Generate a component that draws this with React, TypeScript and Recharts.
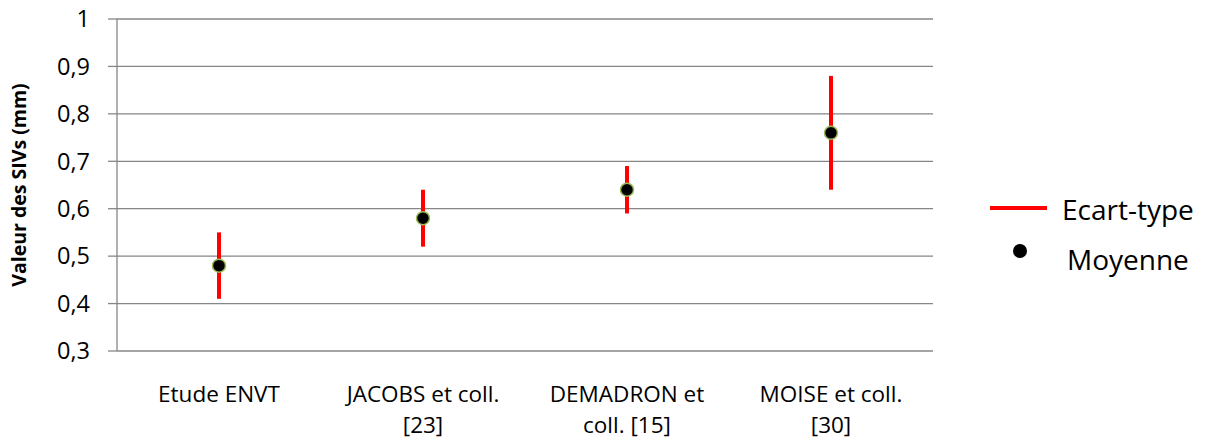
import { ComposedChart, Line, ErrorBar, XAxis, YAxis, CartesianGrid } from "recharts";

/* ---------- data ---------- */

const categories = ["Etude ENVT", "JACOBS et coll.\n[23]", "DEMADRON et\ncoll. [15]", "MOISE et coll.\n[30]"];
const means = [0.48, 0.58, 0.64, 0.76];
const lows = [0.41, 0.52, 0.59, 0.64];
const highs = [0.55, 0.64, 0.69, 0.88];
const yTicks = [0.3, 0.4, 0.5, 0.6, 0.7, 0.8, 0.9, 1];
const edgeTicks = [0, 1, 2, 3, 4];
const centerTicks = [0.5, 1.5, 2.5, 3.5];

const data = categories.map((name, i) => ({
  name,
  x: i + 0.5,
  mean: means[i],
  err: [means[i] - lows[i], highs[i] - means[i]],
}));

const FONT = "'Open Sans', sans-serif";
const GRID = "#868686";

/* ---------- custom pieces ---------- */

function CategoryTick({ x, y, payload }: any) {
  const label = categories[Math.floor(payload.value)] ?? "";
  const lines = label.split("\n");
  return (
    <text x={x} y={y} textAnchor="middle" fontFamily={FONT} fontSize={22.5} fill="#000">
      {lines.map((l, i) => (
        <tspan key={i} x={x} dy={i === 0 ? 51 : 31}>
          {l}
        </tspan>
      ))}
    </text>
  );
}

function MeanDot({ cx, cy }: any) {
  if (cx == null || cy == null) return null;
  return <circle cx={cx} cy={cy} r={6.5} fill="#000" stroke="#9bbb59" strokeWidth={1.5} />;
}

function YTitle({ viewBox }: any) {
  const cx = viewBox.x + 18;
  const cy = viewBox.y + viewBox.height / 2;
  return (
    <text
      x={cx}
      y={cy}
      transform={`rotate(-90 ${cx} ${cy})`}
      textAnchor="middle"
      dominantBaseline="central"
      fontFamily={FONT}
      fontSize={19.5}
      fontWeight={700}
      fill="#000"
    >
      Valeur des SIVs (mm)
    </text>
  );
}

function ChartLegend() {
  const text = { position: "absolute" as const, fontFamily: FONT, fontSize: 28, lineHeight: "28px", color: "#000", whiteSpace: "nowrap" as const };
  return (
    <>
      <div style={{ position: "absolute", left: 990, top: 206, width: 57, height: 4, background: "#ff0000" }} />
      <div style={{ ...text, left: 1062, top: 195 }}>Ecart-type</div>
      <div style={{ position: "absolute", left: 1013, top: 244, width: 14, height: 14, borderRadius: "50%", background: "#000" }} />
      <div style={{ ...text, left: 1067, top: 245 }}>Moyenne</div>
    </>
  );
}

export default function App() {
  return (
    <div style={{ position: "relative", width: 1207, height: 441, margin: "-8px 0 0 -8px" }}>
      <ComposedChart
        width={1207}
        height={441}
        data={data}
        margin={{ top: 19, right: 274, left: 0, bottom: 0 }}
        style={{ fontFamily: FONT }}
      >
        <CartesianGrid horizontal vertical={false} stroke={GRID} strokeWidth={1.3} />
        <XAxis
          xAxisId="edges"
          dataKey="x"
          type="number"
          domain={[0, 4]}
          ticks={edgeTicks}
          tick={false}
          tickLine={{ stroke: GRID, strokeWidth: 1.3 }}
          axisLine={{ stroke: GRID, strokeWidth: 1.3 }}
          tickSize={8}
          height={0}
          allowDataOverflow
        />
        <XAxis
          xAxisId="labels"
          dataKey="x"
          type="number"
          domain={[0, 4]}
          ticks={centerTicks}
          interval={0}
          axisLine={false}
          tickLine={false}
          tick={<CategoryTick />}
          tickSize={0}
          tickMargin={0}
          height={90}
          allowDataOverflow
        />
        <YAxis
          type="number"
          domain={[0.3, 1]}
          ticks={yTicks}
          interval={0}
          tick={{ fontSize: 23.5, fill: "#000", fontFamily: FONT }}
          tickFormatter={(v: number) => String(v).replace(".", ",")}
          tickLine={{ stroke: GRID, strokeWidth: 1.3 }}
          axisLine={{ stroke: GRID, strokeWidth: 1.3 }}
          tickSize={9}
          tickMargin={18}
          width={117}
          label={{ content: <YTitle /> }}
        />
        <Line
          xAxisId="edges"
          dataKey="mean"
          name="Moyenne"
          stroke="none"
          dot={<MeanDot />}
          activeDot={false}
          isAnimationActive={false}
        >
          <ErrorBar dataKey="err" direction="y" width={0} stroke="#ff0000" strokeWidth={4} isAnimationActive={false} />
        </Line>
      </ComposedChart>
      <ChartLegend />
    </div>
  );
}
